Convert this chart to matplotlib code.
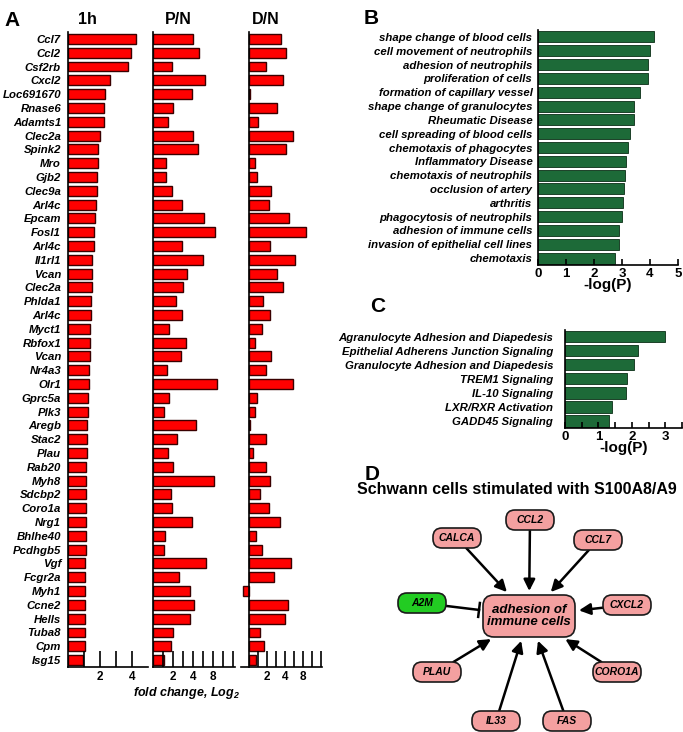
import numpy as np
import matplotlib.pyplot as plt
from matplotlib.patches import FancyBboxPatch

plt.rcParams['font.family'] = ['Liberation Sans', 'DejaVu Sans']
plt.rcParams['mathtext.fontset'] = 'custom'
plt.rcParams['mathtext.rm'] = 'Liberation Sans:italic:bold'
plt.rcParams['mathtext.it'] = 'Liberation Sans:italic:bold'

# ---- panel A: fold change (log2) ----
genes = ["Ccl7", "Ccl2", "Csf2rb", "Cxcl2", "Loc691670", "Rnase6", "Adamts1", "Clec2a",
         "Spink2", "Mro", "Gjb2", "Clec9a", "Arl4c", "Epcam", "Fosl1", "Arl4c", "Il1rl1",
         "Vcan", "Clec2a", "Phlda1", "Arl4c", "Myct1", "Rbfox1", "Vcan", "Nr4a3", "Olr1",
         "Gprc5a", "Plk3", "Aregb", "Stac2", "Plau", "Rab20", "Myh8", "Sdcbp2", "Coro1a",
         "Nrg1", "Bhlhe40", "Pcdhgb5", "Vgf", "Fcgr2a", "Myh1", "Ccne2", "Hells", "Tuba8",
         "Cpm", "Isg15"]
fc_1h = [2.11, 1.96, 1.86, 1.31, 1.15, 1.13, 1.11, 0.99, 0.93, 0.93, 0.90, 0.90, 0.875,
         0.84, 0.81, 0.80, 0.76, 0.75, 0.74, 0.73, 0.72, 0.70, 0.69, 0.69, 0.67, 0.66,
         0.64, 0.625, 0.60, 0.59, 0.58, 0.57, 0.57, 0.56, 0.56, 0.55, 0.55, 0.55, 0.54,
         0.53, 0.53, 0.53, 0.52, 0.52, 0.52, 0.48]
fc_pn = [1.97, 2.28, 0.92, 2.57, 1.95, 0.97, 0.73, 1.98, 2.22, 0.65, 0.63, 0.92, 1.43,
         2.53, 3.10, 1.41, 2.47, 1.67, 1.47, 1.13, 1.43, 0.78, 1.62, 1.38, 0.68, 3.18,
         0.80, 0.53, 2.15, 1.20, 0.75, 0.97, 3.03, 0.87, 0.93, 1.95, 0.57, 0.53, 2.65,
         1.27, 1.83, 2.02, 1.85, 0.97, 0.87, 0.55]
fc_dn = [1.76, 2.04, 0.95, 1.87, 0.05, 1.56, 0.53, 2.42, 2.05, 0.33, 0.44, 1.24, 1.11,
         2.20, 3.18, 1.15, 2.56, 1.58, 1.91, 0.76, 1.15, 0.73, 0.33, 1.24, 0.95, 2.44,
         0.47, 0.33, 0.05, 0.95, 0.20, 0.93, 1.15, 0.62, 1.09, 1.71, 0.40, 0.73, 2.35,
         1.38, -0.33, 2.16, 2.00, 0.60, 0.85, 0.42]
col_titles = ["1h", "P/N", "D/N"]
fold_labels = {1.0: "2", 2.0: "4", 3.0: "8"}

# ---- panel B ----
terms_b = ["shape change of blood cells", "cell movement of neutrophils",
           "adhesion of neutrophils", "proliferation of cells",
           "formation of capillary vessel", "shape change of granulocytes",
           "Rheumatic Disease", "cell spreading of blood cells",
           "chemotaxis of phagocytes", "Inflammatory Disease",
           "chemotaxis of neutrophils", "occlusion of artery", "arthritis",
           "phagocytosis of neutrophils", "adhesion of immune cells",
           "invasion of epithelial cell lines", "chemotaxis"]
logp_b = [4.14, 3.99, 3.93, 3.92, 3.64, 3.43, 3.43, 3.27, 3.23, 3.13, 3.10, 3.07,
          3.04, 3.01, 2.90, 2.90, 2.74]

# ---- panel C ----
paths_c = ["Agranulocyte Adhesion and Diapedesis",
           "Epithelial Adherens Junction Signaling",
           "Granulocyte Adhesion and Diapedesis", "TREM1 Signaling",
           "IL-10 Signaling", "LXR/RXR Activation", "GADD45 Signaling"]
logp_c = [2.98, 2.17, 2.07, 1.85, 1.81, 1.42, 1.32]

# ---- panel D network ----
hub_label = "adhesion of\nimmune cells"
net_nodes = ["CCL2", "CALCA", "CCL7", "A2M", "CXCL2", "PLAU", "CORO1A", "IL33", "FAS"]
net_inhibits = ["A2M"]

W, H = 683, 732
fig = plt.figure(figsize=(W / 100, H / 100), dpi=100)


def px_axes(x0, y0, x1, y1):
    return fig.add_axes([x0 / W, 1 - y1 / H, (x1 - x0) / W, (y1 - y0) / H])


RED = "#ff0000"
RED_EDGE = "#3a0000"
GREEN = "#1d6a38"

ypos = np.arange(len(genes))
boxes_a = [(68, 147.7, (0, 2.49)), (153.3, 235, (0, 4.08)), (241, 321.7, (-0.44, 4.04))]
for i, (vals, (x0, x1, xl)) in enumerate(zip([fc_1h, fc_pn, fc_dn], boxes_a)):
    ax = px_axes(x0, 32, x1, 667)
    ax.barh(ypos, vals, height=0.72, color=RED, edgecolor=RED_EDGE, linewidth=1.0)
    ax.set_xlim(*xl)
    ax.set_ylim(len(genes) - 0.5, -0.5)
    for s in ["top", "right"]:
        ax.spines[s].set_visible(False)
    ax.spines["left"].set_position(("data", 0))
    ax.spines["left"].set_linewidth(1.2)
    ax.spines["bottom"].set_linewidth(1.2)
    ticks = np.arange(0.5, xl[1] + 0.01, 0.5)
    ax.set_xticks(ticks)
    ax.set_xticklabels([fold_labels.get(t, "") for t in ticks],
                       fontsize=8.5, fontweight="bold")
    ax.tick_params(axis="x", direction="in", length=11.5, width=1.2, pad=3)
    if i == 0:
        ax.set_yticks(ypos)
        ax.set_yticklabels(genes, fontsize=8.2, fontweight="bold", fontstyle="italic")
        ax.tick_params(axis="y", length=0, pad=5)
    else:
        ax.set_yticks([])
    ax.patch.set_alpha(0)

for t, xc in zip(col_titles, [87, 178, 266]):
    fig.text(xc / W, 1 - 19 / H, t, fontsize=11.5, fontweight="bold",
             ha="center", va="center")
fig.text(186 / W, 1 - 693 / H, r"fold change, Log$_\mathrm{2}$", fontsize=9,
         fontweight="bold", fontstyle="italic", ha="center", va="center")

# panel B
axb = px_axes(538, 30, 678, 265)
yb = np.arange(len(terms_b))
axb.barh(yb, logp_b, height=0.8, color=GREEN, edgecolor="#0a2e16", linewidth=0.6)
axb.set_xlim(0, 5)
axb.set_ylim(len(terms_b) - 0.5, -0.5)
axb.set_yticks(yb)
axb.set_yticklabels(terms_b, fontsize=8.2, fontweight="bold", fontstyle="italic")
axb.set_xticks(range(6))
axb.set_xticklabels([str(v) for v in range(6)], fontsize=9.5, fontweight="bold")
axb.tick_params(axis="y", length=0, pad=4)
axb.tick_params(axis="x", direction="in", length=4, width=1.2, pad=2)
axb.set_xlabel("-log(P)", fontsize=11, fontweight="bold", labelpad=-1)

# panel C
axc = px_axes(565, 329.7, 682, 428)
yc = np.arange(len(paths_c))
axc.barh(yc, logp_c, height=0.8, color=GREEN, edgecolor="#0a2e16", linewidth=0.6)
axc.set_xlim(0, 3.45)
axc.set_ylim(len(paths_c) - 0.5, -0.5)
axc.set_yticks(yc)
axc.set_yticklabels(paths_c, fontsize=8.2, fontweight="bold", fontstyle="italic")
cticks = np.arange(0, 3.51, 0.5)
axc.set_xticks(cticks)
axc.set_xticklabels([str(int(t)) if t == int(t) else "" for t in cticks],
                    fontsize=9.5, fontweight="bold")
axc.tick_params(axis="y", length=0, pad=8.5)
axc.tick_params(axis="x", direction="in", length=4, width=1.2, pad=2)
axc.set_xlabel("-log(P)", fontsize=11, fontweight="bold", labelpad=-1)

for ax in [axb, axc]:
    for s in ["top", "right"]:
        ax.spines[s].set_visible(False)
    ax.spines["left"].set_linewidth(1.2)
    ax.spines["bottom"].set_linewidth(1.2)

# panel letters
for letter, (x, y) in zip("ABCD", [(4, 20), (364, 18), (370, 307), (365, 474)]):
    fig.text(x / W, 1 - y / H, letter, fontsize=15, fontweight="bold",
             ha="left", va="center")
fig.text(517 / W, 1 - 490 / H, "Schwann cells stimulated with S100A8/A9",
         fontsize=11.5, fontweight="bold", ha="center", va="center")

# panel D network (axes in pixel units)
axn = px_axes(350, 470, 683, 732)
axn.set_xlim(350, 683)
axn.set_ylim(732, 470)
axn.axis("off")

hub = (529, 616)
hub_w, hub_h = 92, 42
node_pos = [(530, 520), (457, 538), (598, 540), (422, 603), (627, 605),
            (437, 672), (617, 672), (496, 721), (567, 721)]
node_w, node_h = 48, 20
PINK = "#f4a0a0"


def box(ax, c, w, h, color, r):
    p = FancyBboxPatch((c[0] - w / 2, c[1] - h / 2), w, h,
                       boxstyle=f"round,pad=0,rounding_size={r}",
                       facecolor=color, edgecolor="#1a1a1a", linewidth=1.2, zorder=3)
    ax.add_patch(p)


def exit_t(d, w, h):
    tx = (w / 2) / abs(d[0]) if abs(d[0]) > 1e-9 else np.inf
    ty = (h / 2) / abs(d[1]) if abs(d[1]) > 1e-9 else np.inf
    return min(tx, ty)


box(axn, hub, hub_w, hub_h, PINK, 11)
axn.text(hub[0], hub[1], hub_label, fontsize=9.5, fontweight="bold",
         fontstyle="italic", ha="center", va="center", zorder=4, linespacing=1.05)

for name, pos in zip(net_nodes, node_pos):
    inhib = name in net_inhibits
    box(axn, pos, node_w, node_h, "#22cc22" if inhib else PINK, 9)
    axn.text(pos[0], pos[1], name, fontsize=7.5, fontweight="bold",
             fontstyle="italic", ha="center", va="center", zorder=4)
    d = np.array(hub, float) - np.array(pos, float)
    d = d / np.hypot(*d)
    start = np.array(pos) + d * exit_t(d, node_w, node_h)
    end = np.array(hub) - d * (exit_t(d, hub_w, hub_h) + 4)
    if inhib:
        axn.plot([start[0], end[0]], [start[1], end[1]], color="k", lw=1.8, zorder=2)
        nrm = np.array([-d[1], d[0]])
        b1, b2 = end + nrm * 7, end - nrm * 7
        axn.plot([b1[0], b2[0]], [b1[1], b2[1]], color="k", lw=1.8, zorder=2)
    else:
        axn.annotate("", xy=end, xytext=start,
                     arrowprops=dict(arrowstyle="-|>", color="k", lw=1.8,
                                     mutation_scale=17, shrinkA=0, shrinkB=0),
                     zorder=2)

fig.savefig("out.png", dpi=100)
